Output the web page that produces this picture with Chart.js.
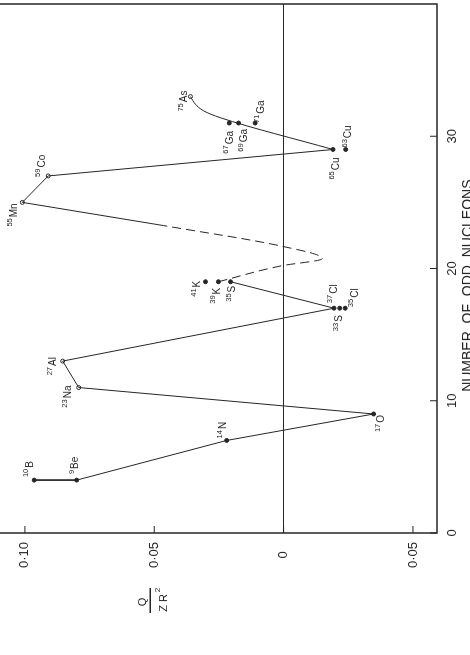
<!DOCTYPE html>
<html>
<head>
<meta charset="utf-8">
<script src="https://cdn.jsdelivr.net/npm/chart.js@4/dist/chart.umd.min.js"></script>
<style>
	html, body { margin: 0; padding: 0; width: 470px; height: 655px; overflow: hidden; background: #fff; }
	/* the figure is printed sideways: draw it upright, then turn it a quarter turn */
	#turn { position: absolute; left: 0; top: 0; width: 655px; height: 482px;
		transform-origin: 0 0; transform: translate(-2px, 655px) rotate(-90deg); }
</style>
</head>
<body>
<div id="turn"><canvas id="chart" width="655" height="482"></canvas></div>
<script>
const massNumbers = [10, 9, 14, 17, 23, 27, 33, 35, 37, 35, 39, 41, 55, 59, 63, 65, 67, 69, 71, 75];
const symbols = ["B", "Be", "N", "O", "Na", "Al", "S", "Cl", "Cl", "S", "K", "K", "Mn", "Co", "Cu", "Cu", "Ga", "Ga", "Ga", "As"];
const oddNucleons = [4, 4, 7, 9, 11, 13, 17, 17, 17, 19, 19, 19, 25, 27, 29, 29, 31, 31, 31, 33];
const quadrupole = [0.0964, 0.080, 0.022, -0.0348, 0.0792, 0.0854, -0.0217, -0.0238, -0.0195, 0.0205, 0.0252, 0.0302,
	0.101, 0.091, -0.024, -0.0191, 0.021, 0.0174, 0.011, 0.036];
const openMarks = ["23Na", "27Al", "55Mn", "59Co", "75As"];

// hand-drawn trend through the points
const lowTrendN = [4, 4, 7, 9, 11, 13, 17, 19];
const lowTrendQ = [0.0964, 0.080, 0.022, -0.0348, 0.0792, 0.0854, -0.0195, 0.0205];
const dashedN = [19, 20.2, 20.75, 21.7, 23.25];
const dashedQ = [0.0252, 0.001, -0.015, 0.001, 0.0465];
const highTrendN = [23.25, 25, 27, 29];
const highTrendQ = [0.0465, 0.101, 0.091, -0.0191];
const tailN = [29, 31.4, 31.92, 32.43, 33];
const tailQ = [-0.0191, 0.0244, 0.0309, 0.0341, 0.036];

const nTicks = [0, 10, 20, 30];
const qTicks = [0.10, 0.05, 0, -0.05];
const qTickLabels = ["0·10", "0·05", "0", "0·05"];
const nTitle = "NUMBER  OF  ODD  NUCLEONS";

const ink = "#262626";
const face = "Liberation Sans, Arial, sans-serif";

// label placement: [dx, dy, anchor] from the point, in canvas pixels
const placement = {
	"10B": [3, -4, "left"], "9Be": [6, -1, "left"], "14N": [2, -3, "left"], "17O": [-1, 8, "right"],
	"23Na": [2, -10, "right"], "27Al": [4, -9, "right"], "33S": [-7, 0, "right"], "35Cl": [1, 10, "left"],
	"37Cl": [5, 0, "left"], "35S": [-4, 2, "right"], "39K": [-6, -1, "right"], "41K": [1, -8, "right"],
	"55Mn": [-1, -8, "right"], "59Co": [-1, -6, "left"], "63Cu": [2, 3, "left"], "65Cu": [-8, 3, "right"],
	"67Ga": [-8, 1, "right"], "69Ga": [-6, 6, "right"], "71Ga": [0, 6, "left"], "75As": [6, -6, "right"],
};

const names = symbols.map((s, i) => massNumbers[i] + s);
const pts = (ns, qs) => ns.map((n, i) => ({ x: n, y: qs[i] }));
const trend = (data, extra) => Object.assign({
	data, showLine: true, borderColor: ink, borderWidth: 1, pointRadius: 0, tension: 0,
}, extra);

const frame = {
	id: "frame",
	afterDatasetsDraw(chart) {
		const { ctx, chartArea: a, scales: { x, y } } = chart;
		ctx.save();
		ctx.strokeStyle = ink;
		ctx.lineWidth = 1.5;
		ctx.strokeRect(a.left, a.top, a.right - a.left, a.bottom - a.top);
		ctx.lineWidth = 1;
		ctx.beginPath();
		nTicks.forEach((v) => {
			const px = x.getPixelForValue(v);
			ctx.moveTo(px, a.bottom); ctx.lineTo(px, a.bottom - 7);
		});
		qTicks.forEach((v) => {
			const py = y.getPixelForValue(v);
			ctx.moveTo(a.left, py); ctx.lineTo(a.left + 7, py);
		});
		ctx.stroke();

		ctx.fillStyle = ink;
		ctx.textAlign = "center";
		ctx.textBaseline = "middle";

		// axis title, a little left of the middle as in the print
		ctx.font = "14px " + face;
		ctx.fillText(nTitle, x.getPixelForValue(18.7), a.bottom + 31);

		// Q / ZR^2 beside the value axis
		const cx = 53, top = y.getPixelForValue(qTicks[1]);
		ctx.font = "11px " + face;
		ctx.fillText("Q", cx, top - 11);
		ctx.fillText("Z R", cx - 1, top + 10);
		ctx.font = "8px " + face;
		ctx.fillText("2", cx + 12, top + 4);
		ctx.beginPath();
		ctx.moveTo(cx - 11, top - 4); ctx.lineTo(cx + 14, top - 4);
		ctx.lineWidth = 1.5;
		ctx.stroke();
		ctx.restore();
	},
};

const isotopeLabels = {
	id: "isotopeLabels",
	afterDatasetsDraw(chart) {
		const { ctx, scales: { x, y } } = chart;
		ctx.save();
		ctx.fillStyle = ink;
		ctx.textBaseline = "middle";
		ctx.textAlign = "left";
		names.forEach((name, i) => {
			const [dx, dy, anchor] = placement[name];
			const px = x.getPixelForValue(oddNucleons[i]);
			const py = y.getPixelForValue(quadrupole[i]);
			ctx.font = "7.5px " + face;
			const wm = ctx.measureText(String(massNumbers[i])).width;
			ctx.font = "10px " + face;
			const ws = ctx.measureText(symbols[i]).width;
			const start = anchor === "left" ? px + dx : px + dx - wm - ws - 1;
			ctx.fillText(symbols[i], start + wm + 1, py + dy);
			ctx.font = "7.5px " + face;
			ctx.fillText(String(massNumbers[i]), start, py + dy - 4);
		});
		ctx.restore();
	},
};

new Chart(document.getElementById("chart"), {
	type: "scatter",
	data: {
		datasets: [
			trend(pts(lowTrendN, lowTrendQ)),
			trend(pts(dashedN, dashedQ), { borderDash: [9, 5], cubicInterpolationMode: "monotone" }),
			trend(pts(highTrendN, highTrendQ)),
			trend(pts(tailN, tailQ), { cubicInterpolationMode: "monotone" }),
			{
				data: pts(oddNucleons, quadrupole),
				pointRadius: 2,
				pointBorderWidth: 1,
				pointBorderColor: ink,
				pointBackgroundColor: names.map((n) => (openMarks.includes(n) ? "#fff" : ink)),
			},
		],
	},
	options: {
		responsive: false,
		animation: false,
		devicePixelRatio: 1,
		layout: { autoPadding: false, padding: { top: 0, right: 4, bottom: 0, left: 0 } },
		plugins: { legend: { display: false }, tooltip: { enabled: false } },
		scales: {
			x: {
				type: "linear",
				min: 0,
				max: 40,
				afterFit: (s) => { s.height = 43; s.paddingLeft = 0; s.paddingRight = 0; },
				afterBuildTicks: (s) => { s.ticks = nTicks.map((v) => ({ value: v })); },
				grid: { display: false },
				border: { display: false },
				ticks: { color: ink, font: { family: face, size: 13 }, padding: 0, maxRotation: 0 },
			},
			y: {
				min: -0.0593,
				max: 0.1104,
				afterFit: (s) => { s.width = 122; s.paddingTop = 0; s.paddingBottom = 0; },
				afterBuildTicks: (s) => { s.ticks = qTicks.map((v) => ({ value: v })); },
				grid: {
					drawTicks: false,
					color: (c) => (c.tick && c.tick.value === 0 ? ink : "rgba(0,0,0,0)"),
				},
				border: { display: false },
				ticks: {
					color: ink,
					font: { family: face, size: 13 },
					padding: 9,
					crossAlign: "center",
					callback: (v, i) => qTickLabels[i],
				},
			},
		},
	},
	plugins: [frame, isotopeLabels],
});
</script>
</body>
</html>
